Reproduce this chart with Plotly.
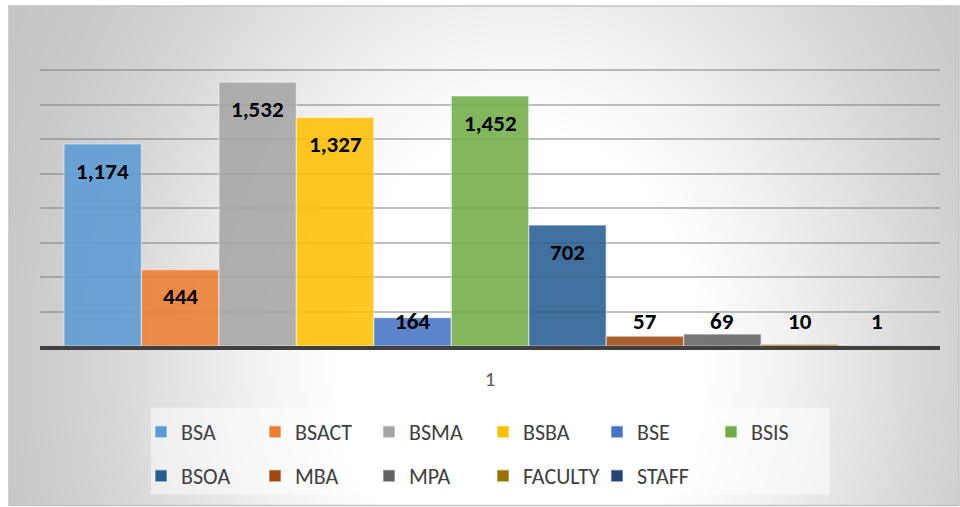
import base64
import struct
import zlib

import numpy as np
import plotly.graph_objects as go

# ---------------- data ----------------
categories = ["1"]
series_names = ["BSA", "BSACT", "BSMA", "BSBA", "BSE", "BSIS",
                "BSOA", "MBA", "MPA", "FACULTY", "STAFF"]
series_values = [1174, 444, 1532, 1327, 164, 1452, 702, 57, 69, 10, 1]
series_colors = ["#5B9BD5", "#ED7D31", "#A5A5A5", "#FFC000", "#4472C4", "#70AD47",
                 "#255E91", "#9E480E", "#636363", "#997300", "#264478"]

# ---------------- layout constants ----------------
W, H = 960, 507
PLOT_L, PLOT_R, PLOT_T, PLOT_B = 40, 940, 36, 347
Y_MAX, Y_DTICK = 1800, 200
BARGAP = 0.0533
FONT = "Calibri, Carlito, Lato, sans-serif"


def px_x(x):
    """pixel x -> paper x (paper is the plot area)"""
    return (x - PLOT_L) / (PLOT_R - PLOT_L)


def px_y(y):
    """pixel y (from top) -> paper y"""
    return (PLOT_B - y) / (PLOT_B - PLOT_T)


# ---------------- background gradient (as inline png) ----------------
def gradient_png(w, h, x0, y0, cw, ch):
    xs = (np.arange(w) + 0.5) / w * cw + x0
    ys = (np.arange(h) + 0.5) / h * ch + y0
    X, Y = np.meshgrid(xs, ys)
    t = np.sqrt(((X - 520) / 440.0) ** 2 + ((Y - 360) / 560.0) ** 2)
    tp = [0.0, 0.42, 0.63, 0.8, 1.0, 1.15, 1.35]
    vp = [255, 255, 240, 226, 210, 202, 196]
    v = np.interp(t, tp, vp).astype(np.uint8)
    raw = b"".join(b"\x00" + v[r].tobytes() for r in range(h))

    def chunk(tag, data):
        c = struct.pack(">I", len(data)) + tag + data
        return c + struct.pack(">I", zlib.crc32(tag + data) & 0xFFFFFFFF)

    png = b"\x89PNG\r\n\x1a\n"
    png += chunk(b"IHDR", struct.pack(">IIBBBBB", w, h, 8, 0, 0, 0, 0))
    png += chunk(b"IDAT", zlib.compress(raw, 9))
    png += chunk(b"IEND", b"")
    return "data:image/png;base64," + base64.b64encode(png).decode()


BG_X0, BG_Y0, BG_X1, BG_Y1 = 9, 6, 959, 507
bg_src = gradient_png(475, 250, BG_X0, BG_Y0, BG_X1 - BG_X0, BG_Y1 - BG_Y0)

fig = go.Figure()

n = len(series_names)
for i, (name, val, col) in enumerate(zip(series_names, series_values, series_colors)):
    fig.add_trace(go.Bar(
        x=categories, y=[val], name=name,
        marker=dict(color=col, opacity=0.87,
                    line=dict(color="rgba(255,255,255,0.55)", width=1.2)),
        legend="legend" if i < 6 else "legend2",
        hoverinfo="skip",
    ))

# data labels: inside end of bar, kept above a floor for short bars
px_per_unit = (PLOT_B - PLOT_T) / Y_MAX
LABEL_OFFSET_PX = 27
LABEL_FLOOR_PX = 25
bar_w = (1 - BARGAP) / n
annotations = []
for i, val in enumerate(series_values):
    xc = -0.5 + BARGAP / 2 + (i + 0.5) * bar_w
    yl = max(val - LABEL_OFFSET_PX / px_per_unit, LABEL_FLOOR_PX / px_per_unit)
    annotations.append(dict(
        x=xc, y=yl, xref="x", yref="y", text=f"<b>{val:,}</b>",
        showarrow=False, xanchor="center", yanchor="middle",
        font=dict(family=FONT, size=23, color="#000000"),
    ))

shapes = [
    # chart area border
    dict(type="rect", xref="paper", yref="paper",
         x0=px_x(BG_X0), x1=px_x(BG_X1), y0=px_y(BG_Y1), y1=px_y(BG_Y0),
         fillcolor="rgba(0,0,0,0)", line=dict(color="#C4C4C4", width=1.5), layer="below"),
    # legend box
    dict(type="rect", xref="paper", yref="paper",
         x0=px_x(151), x1=px_x(830), y0=px_y(496), y1=px_y(409),
         fillcolor="rgba(255,255,255,0.5)", line=dict(width=0), layer="below"),
]

legend_common = dict(
    orientation="h", xanchor="left", yanchor="middle",
    font=dict(family=FONT, size=22, color="#404040"),
    bgcolor="rgba(0,0,0,0)", borderwidth=0,
    entrywidth=69, entrywidthmode="pixels", itemclick=False, itemdoubleclick=False,
)

fig.update_layout(
    width=W, height=H,
    margin=dict(l=PLOT_L, r=W - PLOT_R, t=PLOT_T, b=H - PLOT_B),
    paper_bgcolor="#FFFFFF", plot_bgcolor="rgba(0,0,0,0)",
    barmode="group", bargap=BARGAP, bargroupgap=0,
    showlegend=True,
    legend=dict(x=px_x(141), y=px_y(432), **legend_common),
    legend2=dict(x=px_x(141), y=px_y(476), **legend_common),
    xaxis=dict(
        type="category", showline=True, linecolor="#404040", linewidth=4,
        ticks="outside", ticklen=11, tickcolor="rgba(0,0,0,0)",
        tickfont=dict(family=FONT, size=21, color="#595959"),
        showgrid=False, zeroline=False, fixedrange=True, layer="above traces",
    ),
    yaxis=dict(
        range=[0, Y_MAX], dtick=Y_DTICK, showticklabels=False,
        showgrid=True, gridcolor="rgba(120,120,120,0.48)", gridwidth=1.5,
        zeroline=False, showline=False, fixedrange=True,
    ),
    images=[dict(source=bg_src, xref="paper", yref="paper",
                 x=px_x(BG_X0), y=px_y(BG_Y0),
                 sizex=(BG_X1 - BG_X0) / (PLOT_R - PLOT_L),
                 sizey=(BG_Y1 - BG_Y0) / (PLOT_B - PLOT_T),
                 xanchor="left", yanchor="top", sizing="stretch", layer="below")],
    shapes=shapes,
    annotations=annotations,
)

fig.write_html("out.html", config={"displayModeBar": False},
               post_script="document.body.style.margin='0';")
